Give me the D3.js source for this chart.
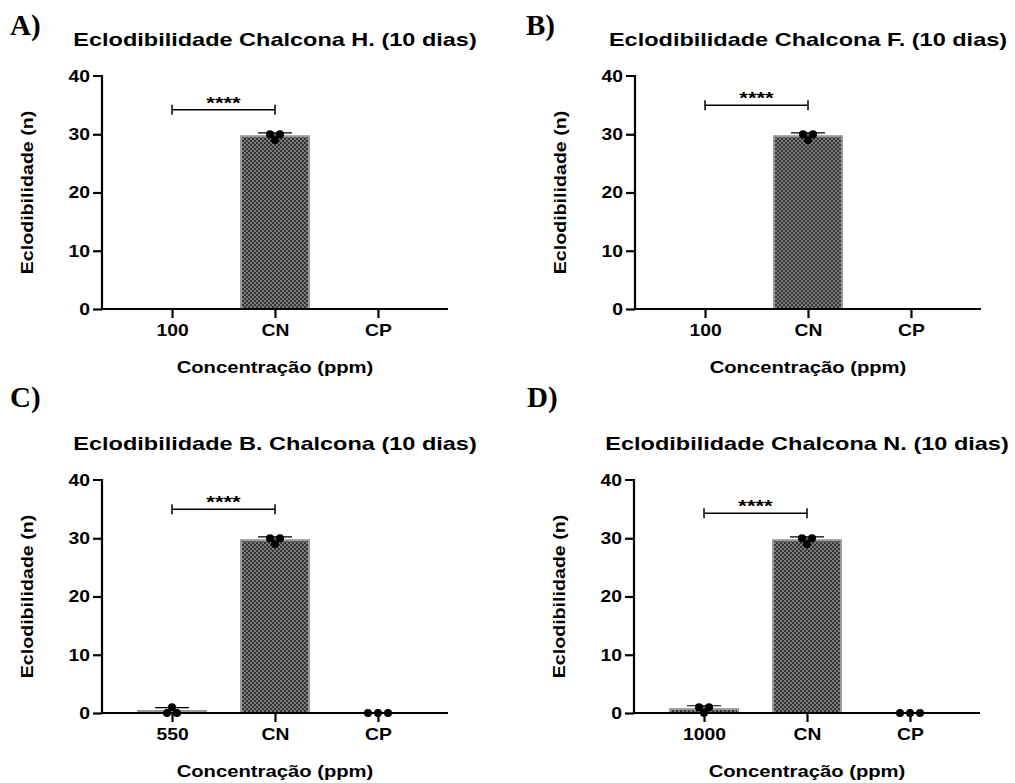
<!DOCTYPE html>
<html>
<head>
<meta charset="utf-8">
<script src="https://cdn.jsdelivr.net/npm/d3@7"></script>
<style>
  body { margin: 0; background: #fff; }
  text { font-family: "Liberation Sans", Arial, sans-serif; font-weight: bold; fill: #000; }
  .letter { font-family: "Liberation Serif", "Times New Roman", serif; font-size: 29px; }
</style>
</head>
<body>
<div id="chart"></div>
<script>
// replicate counts per group; empty = no points drawn (bar at 0)
var yTicks = [0, 10, 20, 30, 40];

var categoriesA = ["100", "CN", "CP"];
var replicatesA = [[], [30, 29, 30], []];
var sigA = ["100", "CN", 34.2, "****"];

var categoriesB = ["100", "CN", "CP"];
var replicatesB = [[], [30, 29, 30], []];
var sigB = ["100", "CN", 35.0, "****"];

var categoriesC = ["550", "CN", "CP"];
var replicatesC = [[0, 1, 0], [30, 29, 30], [0, 0, 0]];
var sigC = ["550", "CN", 35.0, "****"];

var categoriesD = ["1000", "CN", "CP"];
var replicatesD = [[1, 0, 1], [30, 29, 30], [0, 0, 0]];
var sigD = ["1000", "CN", 34.3, "****"];

var titles = [
  "Eclodibilidade Chalcona H. (10 dias)",
  "Eclodibilidade Chalcona F. (10 dias)",
  "Eclodibilidade B. Chalcona (10 dias)",
  "Eclodibilidade Chalcona N. (10 dias)"
];
var letters = ["A)", "B)", "C)", "D)"];

var svg = d3.select("#chart").append("svg")
  .attr("width", 1015)
  .attr("height", 783);

// checkered fill like the GraphPad bars
var pat = svg.append("defs").append("pattern")
  .attr("id", "checker")
  .attr("width", 4).attr("height", 4)
  .attr("patternUnits", "userSpaceOnUse");
pat.append("rect").attr("width", 4).attr("height", 4).attr("fill", "#7a7a7a");
pat.append("rect").attr("width", 2).attr("height", 2).attr("fill", "#353535");
pat.append("rect").attr("x", 2).attr("y", 2).attr("width", 2).attr("height", 2).attr("fill", "#353535");

var plotW = 346, plotH = 233;

// the original font is wider than Liberation Sans, so stretch text sideways
function widen(sel, k) {
  sel.each(function() {
    var len = this.getComputedTextLength();
    d3.select(this).attr("textLength", len * k).attr("lengthAdjust", "spacingAndGlyphs");
  });
}

function drawPanel(o) {
  var g = svg.append("g")
    .attr("transform", "translate(" + o.left + "," + o.top + ")");

  var x = d3.scalePoint()
    .domain(o.categories)
    .range([0, plotW])
    .padding(0.68);

  var y = d3.scaleLinear()
    .domain([0, 40])
    .range([plotH, 0]);

  var step = x.step();
  var barW = step * 0.66;

  var groups = o.categories.map(function(c, i) {
    var vals = o.replicates[i];
    return {
      cat: c,
      vals: vals,
      mean: vals.length ? d3.mean(vals) : 0,
      sd: vals.length > 1 ? d3.deviation(vals) : 0
    };
  });
  var shown = groups.filter(function(d) { return d.vals.length && d.mean > 0; });

  // bars
  g.selectAll(".bar")
    .data(shown)
    .enter().append("rect")
    .attr("class", "bar")
    .attr("x", function(d) { return x(d.cat) - barW / 2; })
    .attr("y", function(d) { return y(d.mean); })
    .attr("width", barW)
    .attr("height", function(d) { return plotH - y(d.mean); })
    .attr("fill", "url(#checker)")
    .attr("stroke", "#9a9a9a")
    .attr("stroke-width", 2);

  // error bars (mean + SD)
  var eb = g.selectAll(".err")
    .data(shown)
    .enter().append("g")
    .attr("class", "err");
  eb.append("line")
    .attr("x1", function(d) { return x(d.cat); })
    .attr("x2", function(d) { return x(d.cat); })
    .attr("y1", function(d) { return y(d.mean); })
    .attr("y2", function(d) { return y(d.mean + d.sd); })
    .attr("stroke", "#000").attr("stroke-width", 1.2);
  eb.append("line")
    .attr("x1", function(d) { return x(d.cat) - 17; })
    .attr("x2", function(d) { return x(d.cat) + 17; })
    .attr("y1", function(d) { return y(d.mean + d.sd); })
    .attr("y2", function(d) { return y(d.mean + d.sd); })
    .attr("stroke", "#000").attr("stroke-width", 1.2);

  // axes
  var yAxis = d3.axisLeft(y).tickValues(yTicks).tickSize(9).tickPadding(3);
  var xAxis = d3.axisBottom(x).tickSize(9).tickPadding(6);

  var ya = g.append("g").call(yAxis);
  var xa = g.append("g").attr("transform", "translate(0," + plotH + ")").call(xAxis);
  xa.select(".domain").attr("d", "M-1,0H" + plotW);
  ya.select(".domain").attr("d", "M-9,0H0V" + plotH);
  [ya, xa].forEach(function(a) {
    a.selectAll("path, line").attr("stroke", "#000").attr("stroke-width", 2.2);
    a.selectAll("text").attr("font-size", 16.5).attr("fill", "#000")
      .style("font-family", "'Liberation Sans', Arial, sans-serif").style("font-weight", "bold");
    widen(a.selectAll("text"), 1.17);
  });
  ya.selectAll(".tick").filter(function(d) { return d === 40; }).select("line").remove();

  // points, spread sideways when values repeat
  var r = 4, d0 = 10;
  groups.forEach(function(gr) {
    var counts = {}, seen = {};
    gr.vals.forEach(function(v) { counts[v] = (counts[v] || 0) + 1; });
    gr.vals.forEach(function(v) {
      var n = counts[v], k = seen[v] || 0;
      seen[v] = k + 1;
      var off = (k - (n - 1) / 2) * d0;
      g.append("circle")
        .attr("cx", x(gr.cat) + off)
        .attr("cy", y(v))
        .attr("r", r)
        .attr("fill", "#000");
    });
  });

  // significance bracket
  var s = o.sig;
  var bx1 = x(s[0]), bx2 = x(s[1]), by = y(s[2]);
  g.append("path")
    .attr("d", "M" + bx1 + "," + (by - 5) + "V" + (by + 5) +
               "M" + bx1 + "," + by + "H" + bx2 +
               "M" + bx2 + "," + (by - 5) + "V" + (by + 5))
    .attr("fill", "none").attr("stroke", "#000").attr("stroke-width", 1.5);
  g.append("text")
    .attr("x", (bx1 + bx2) / 2)
    .attr("y", by - 1)
    .attr("text-anchor", "middle")
    .attr("font-size", 17)
    .text(s[3])
    .call(widen, 1.3);

  // labels
  g.append("text")
    .attr("x", plotW / 2)
    .attr("y", -30)
    .attr("text-anchor", "middle")
    .attr("font-size", 18.5)
    .text(o.title)
    .call(widen, 1.27);

  g.append("text")
    .attr("x", plotW / 2)
    .attr("y", plotH + 64)
    .attr("text-anchor", "middle")
    .attr("font-size", 17)
    .text("Concentração (ppm)")
    .call(widen, 1.19);

  g.append("text")
    .attr("transform", "translate(-69," + (plotH / 2) + ") rotate(-90)")
    .attr("text-anchor", "middle")
    .attr("font-size", 16.5)
    .text("Eclodibilidade (n)")
    .call(widen, 1.19);

  svg.append("text")
    .attr("class", "letter")
    .attr("x", o.lx)
    .attr("y", o.ly)
    .text(o.letter);
}

drawPanel({ left: 102, top: 76, categories: categoriesA, replicates: replicatesA, sig: sigA,
  title: titles[0], letter: letters[0], lx: 10, ly: 35 });
drawPanel({ left: 635, top: 76, categories: categoriesB, replicates: replicatesB, sig: sigB,
  title: titles[1], letter: letters[1], lx: 526, ly: 35 });
drawPanel({ left: 102, top: 480, categories: categoriesC, replicates: replicatesC, sig: sigC,
  title: titles[2], letter: letters[2], lx: 10, ly: 407 });
drawPanel({ left: 634, top: 480, categories: categoriesD, replicates: replicatesD, sig: sigD,
  title: titles[3], letter: letters[3], lx: 527, ly: 407 });
</script>
</body>
</html>
